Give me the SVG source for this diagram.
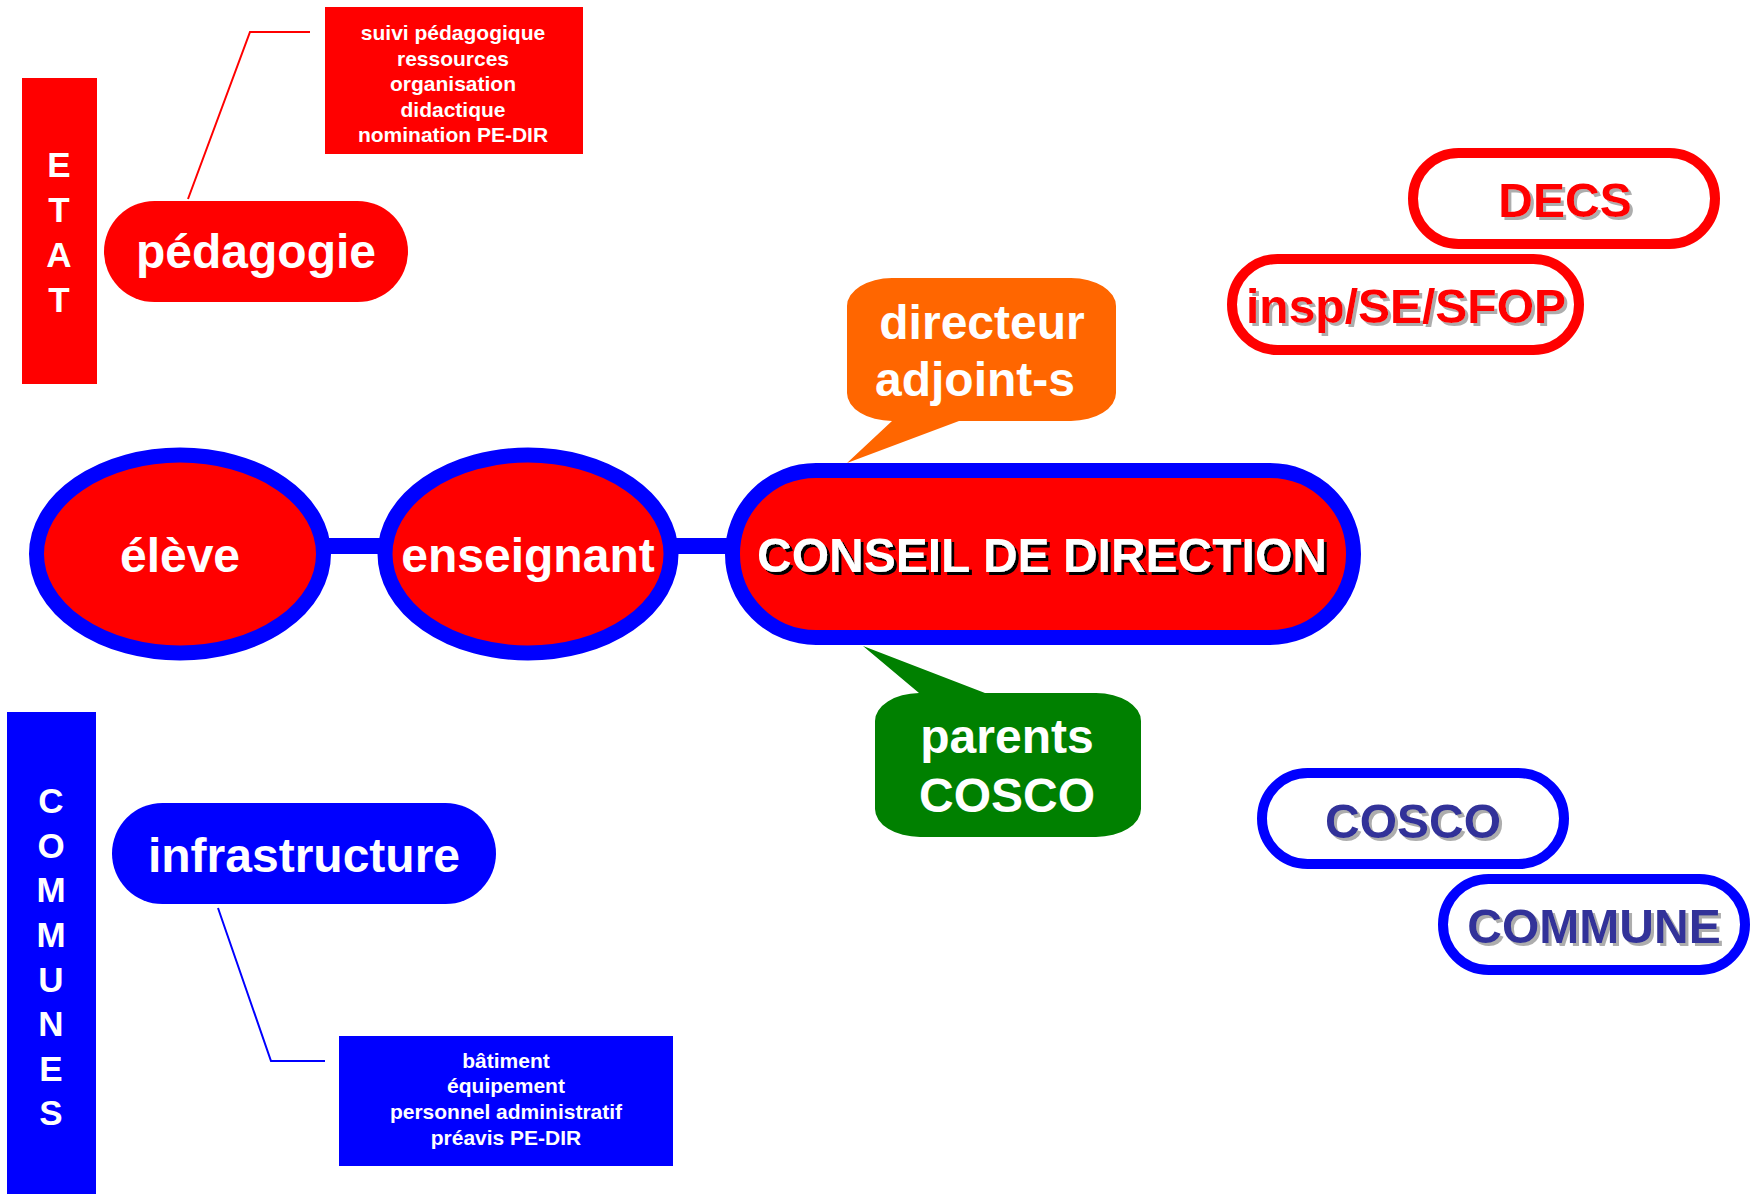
<svg xmlns="http://www.w3.org/2000/svg" width="1757" height="1194" viewBox="0 0 1757 1194">
<defs>
<filter id="shGray" x="-10%" y="-20%" width="120%" height="150%"><feDropShadow dx="3" dy="3" stdDeviation="0.6" flood-color="#999999" flood-opacity="0.8"/></filter>
<filter id="shBlack" x="-10%" y="-20%" width="120%" height="150%"><feDropShadow dx="3" dy="3" stdDeviation="0" flood-color="#000000"/></filter>
</defs>
<style>
text{font-family:"Liberation Sans",Arial,sans-serif;font-weight:bold;text-anchor:middle}
.big{font-size:48px}
.small{font-size:21px;fill:#fff}
.letter{font-size:35px;fill:#fff}
.w{fill:#fff}
.red{fill:#FF0000}
.blue{fill:#0000FF}
.ringR{fill:#fff;stroke:#FF0000;stroke-width:10}
.ringB{fill:#fff;stroke:#0000FF;stroke-width:10}
.core{fill:#FF0000;stroke:#0000FF;stroke-width:15}
.conn{fill:none;stroke-width:2}
</style>
<rect width="1757" height="1194" fill="#fff"/>

<g id="connectors">
<polyline class="conn" stroke="#FF0000" points="188,199 250,32 310,32"/>
<polyline class="conn" stroke="#0000FF" points="218,908 271,1061 325,1061"/>
<rect x="320" y="538" width="70" height="16" fill="#0000FF"/>
<rect x="666" y="538" width="74" height="16" fill="#0000FF"/>
</g>

<g id="etat">
<rect class="red" x="22" y="78" width="75" height="306"/>
<text class="letter" x="59" y="177">E</text>
<text class="letter" x="59" y="222">T</text>
<text class="letter" x="59" y="267">A</text>
<text class="letter" x="59" y="312">T</text>
</g>

<g id="communes">
<rect class="blue" x="7" y="712" width="89" height="482"/>
<text class="letter" x="51" y="813">C</text>
<text class="letter" x="51" y="858">O</text>
<text class="letter" x="51" y="902">M</text>
<text class="letter" x="51" y="947">M</text>
<text class="letter" x="51" y="992">U</text>
<text class="letter" x="51" y="1036">N</text>
<text class="letter" x="51" y="1081">E</text>
<text class="letter" x="51" y="1125">S</text>
</g>

<g id="etat-tasks">
<rect class="red" x="325" y="7" width="258" height="147"/>
<text class="small" x="453" y="40">suivi pédagogique</text>
<text class="small" x="453" y="66">ressources</text>
<text class="small" x="453" y="91">organisation</text>
<text class="small" x="453" y="117">didactique</text>
<text class="small" x="453" y="142">nomination PE-DIR</text>
</g>

<g id="pedagogie">
<rect class="red" x="104" y="201" width="304" height="101" rx="50.5"/>
<text class="big w" x="256" y="268">pédagogie</text>
</g>

<g id="infrastructure">
<rect class="blue" x="112" y="803" width="384" height="101" rx="50.5"/>
<text class="big w" x="304" y="872">infrastructure</text>
</g>

<g id="communes-tasks">
<rect class="blue" x="339" y="1036" width="334" height="130"/>
<text class="small" x="506" y="1068">bâtiment</text>
<text class="small" x="506" y="1093">équipement</text>
<text class="small" x="506" y="1119">personnel administratif</text>
<text class="small" x="506" y="1145">préavis PE-DIR</text>
</g>

<g id="eleve">
<ellipse class="core" cx="180" cy="554" rx="143.5" ry="99"/>
<text class="big w" x="180" y="572">élève</text>
</g>

<g id="enseignant">
<ellipse class="core" cx="528" cy="554" rx="143" ry="99"/>
<text class="big w" x="528" y="572">enseignant</text>
</g>

<g id="conseil">
<rect class="core" x="732.5" y="470.5" width="621" height="167" rx="83.5"/>
<text class="big w" x="1042" y="572" filter="url(#shBlack)">CONSEIL DE DIRECTION</text>
</g>

<g id="directeur">
<path fill="#FF6600" d="M892,278 H1071 A45,28 0 0 1 1116,306 V393 A45,28 0 0 1 1071,421 H959 L847,463 L892,421 A45,28 0 0 1 847,393 V306 A45,28 0 0 1 892,278 Z"/>
<text class="big w" x="982" y="339">directeur</text>
<text class="big w" x="975" y="396">adjoint-s</text>
</g>

<g id="parents">
<path fill="#008000" d="M919,693 L863,646 L985,693 H1096 A45,28 0 0 1 1141,721 V809 A45,28 0 0 1 1096,837 H920 A45,28 0 0 1 875,809 V721 A45,28 0 0 1 919,693 Z"/>
<text class="big w" x="1007" y="753">parents</text>
<text class="big w" x="1007" y="812">COSCO</text>
</g>

<g id="decs">
<rect class="ringR" x="1413" y="153" width="302" height="91" rx="45.5"/>
<text class="big red" x="1565" y="217" filter="url(#shGray)">DECS</text>
</g>

<g id="insp">
<rect class="ringR" x="1232" y="259" width="347" height="91" rx="45.5"/>
<text class="big red" x="1406" y="323" filter="url(#shGray)">insp/SE/SFOP</text>
</g>

<g id="cosco">
<rect class="ringB" x="1262" y="773" width="302" height="91" rx="45.5"/>
<text class="big" fill="#333399" x="1413" y="838" filter="url(#shGray)">COSCO</text>
</g>

<g id="commune">
<rect class="ringB" x="1443" y="879" width="302" height="91" rx="45.5"/>
<text class="big" fill="#333399" x="1594" y="943" filter="url(#shGray)">COMMUNE</text>
</g>
</svg>
